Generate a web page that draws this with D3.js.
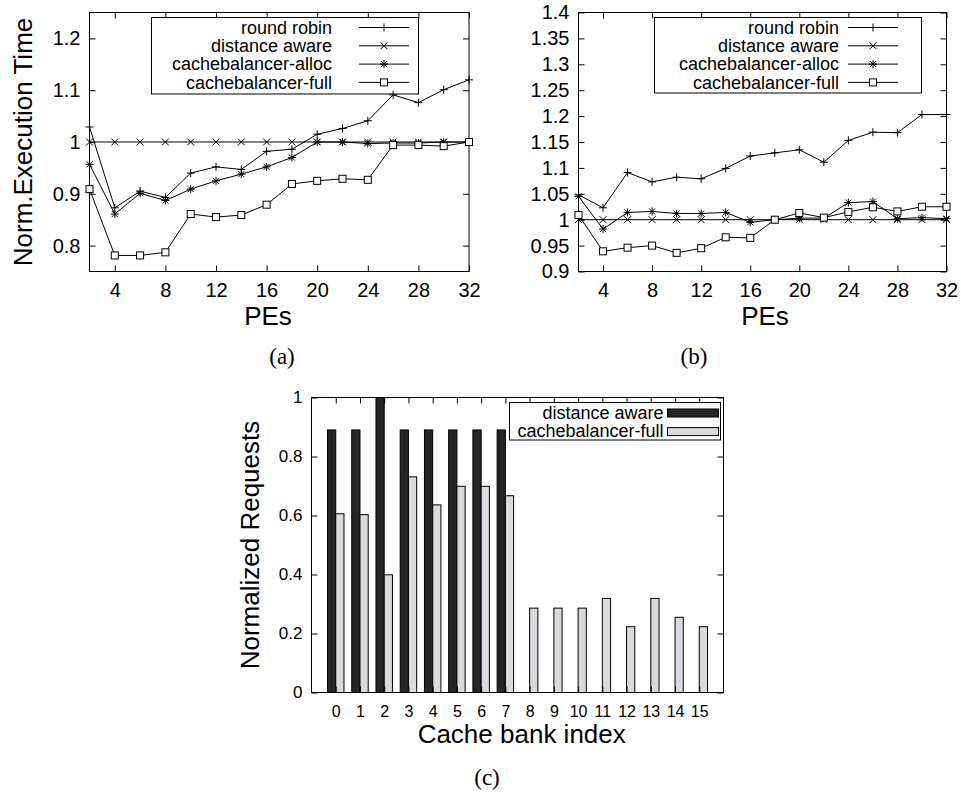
<!DOCTYPE html>
<html>
<head>
<meta charset="utf-8">
<script src="https://cdn.jsdelivr.net/npm/d3@7"></script>
<style>
  body { margin: 0; background: #fff; }
  svg { display: block; }
  text { font-family: "Liberation Sans", Arial, Helvetica, sans-serif; fill: #000; }
  .caption { font-family: "Liberation Serif", "Times New Roman", serif; }
</style>
</head>
<body>
<script>
'use strict';

// ---- data ----
const pes = [2, 4, 6, 8, 10, 12, 14, 16, 18, 20, 22, 24, 26, 28, 30, 32];
const peTicks = [4, 8, 12, 16, 20, 24, 28, 32];
const seriesNames = ['round robin', 'distance aware', 'cachebalancer-alloc', 'cachebalancer-full'];
const seriesMarkers = ['plus', 'cross', 'star', 'box'];

// (a)
const aYTicks = [0.8, 0.9, 1, 1.1, 1.2];
const aRoundRobin = [1.029, 0.873, 0.905, 0.893, 0.940, 0.952, 0.947, 0.982, 0.986, 1.015, 1.026, 1.041, 1.091, 1.076, 1.101, 1.120];
const aDistanceAware = [1, 1, 1, 1, 1, 1, 1, 1, 1, 1, 1, 1, 1, 1, 1, 1];
const aAlloc = [0.957, 0.861, 0.901, 0.887, 0.909, 0.925, 0.938, 0.952, 0.970, 1.000, 1.000, 0.997, 0.998, 0.998, 1.000, 1.000];
const aFull = [0.909, 0.781, 0.781, 0.787, 0.861, 0.855, 0.859, 0.879, 0.919, 0.925, 0.929, 0.927, 0.994, 0.994, 0.992, 1.000];

// (b)
const bYTicks = [0.9, 0.95, 1, 1.05, 1.1, 1.15, 1.2, 1.25, 1.3, 1.35, 1.4];
const bRoundRobin = [1.048, 1.023, 1.091, 1.073, 1.082, 1.079, 1.099, 1.123, 1.129, 1.135, 1.111, 1.153, 1.169, 1.168, 1.203, 1.203];
const bDistanceAware = [1, 1, 1, 1, 1, 1, 1, 1, 1, 1, 1, 1, 1, 1, 1, 1];
const bAlloc = [1.045, 0.982, 1.014, 1.016, 1.012, 1.012, 1.014, 0.995, 1.000, 1.003, 1.003, 1.033, 1.035, 1.002, 1.004, 1.002];
const bFull = [1.009, 0.939, 0.946, 0.950, 0.936, 0.945, 0.966, 0.965, 1.000, 1.013, 1.004, 1.015, 1.024, 1.016, 1.025, 1.025];

// (c)
const banks = [0, 1, 2, 3, 4, 5, 6, 7, 8, 9, 10, 11, 12, 13, 14, 15];
const cYTicks = [0, 0.2, 0.4, 0.6, 0.8, 1];
const barNames = ['distance aware', 'cachebalancer-full'];
const cDistanceAware = [0.89, 0.89, 1.0, 0.89, 0.89, 0.89, 0.89, 0.89, 0, 0, 0, 0, 0, 0, 0, 0];
const cFull = [0.606, 0.603, 0.399, 0.731, 0.636, 0.699, 0.699, 0.667, 0.286, 0.286, 0.286, 0.319, 0.223, 0.319, 0.255, 0.223];
const barColors = ['#262626', '#d9d9de'];

const svgContainer = d3.select('body').append('svg')
  .attr('width', 961)
  .attr('height', 798);

// marker paths (gnuplot point types 1-4)
function markerPath(type) {
  const s = 4;
  if (type === 'plus') return `M${-s},0H${s}M0,${-s}V${s}`;
  if (type === 'cross') return `M${-s + 0.5},${-s + 0.5}L${s - 0.5},${s - 0.5}M${-s + 0.5},${s - 0.5}L${s - 0.5},${-s + 0.5}`;
  if (type === 'star') return `M${-s},0H${s}M0,${-s}V${s}M-3,-3L3,3M-3,3L3,-3`;
  return '';
}

function drawMarker(g, type, x, y) {
  if (type === 'box') {
    g.append('rect')
      .attr('x', x - 3.5).attr('y', y - 3.5)
      .attr('width', 7).attr('height', 7)
      .attr('fill', '#fff').attr('stroke', '#000').attr('stroke-width', 1);
  } else {
    g.append('path')
      .attr('d', markerPath(type))
      .attr('transform', `translate(${x},${y})`)
      .attr('fill', 'none').attr('stroke', '#000').attr('stroke-width', 1);
  }
}

// frame + mirrored inward ticks
function drawFrame(g, xScale, yScale, xTicks, yTicks, opts) {
  const [x0, x1] = xScale.range();
  const [y0, y1] = yScale.range(); // y0 bottom, y1 top

  g.append('g')
    .attr('transform', `translate(0,${y0})`)
    .style('font-size', opts.xFont + 'px')
    .call(d3.axisBottom(xScale).tickValues(xTicks).tickSizeInner(-6).tickSizeOuter(0)
      .tickPadding(opts.xPad).tickFormat(d3.format('')))
    .call(a => a.select('.domain').remove());

  g.append('g')
    .attr('transform', `translate(0,${y1})`)
    .call(d3.axisTop(xScale).tickValues(xTicks).tickSizeInner(-6).tickSizeOuter(0).tickFormat(''))
    .call(a => a.select('.domain').remove());

  g.append('g')
    .attr('transform', `translate(${x0},0)`)
    .style('font-size', opts.yFont + 'px')
    .call(d3.axisLeft(yScale).tickValues(yTicks).tickSizeInner(-6).tickSizeOuter(0)
      .tickPadding(9).tickFormat(d => String(d)))
    .call(a => a.select('.domain').remove());

  g.append('g')
    .attr('transform', `translate(${x1},0)`)
    .call(d3.axisRight(yScale).tickValues(yTicks).tickSizeInner(-6).tickSizeOuter(0).tickFormat(''))
    .call(a => a.select('.domain').remove());

  g.selectAll('.tick text').attr('fill', '#000').style('font-family', '"Liberation Sans", Arial, sans-serif');
  g.selectAll('.tick line').attr('stroke', '#000');

  g.append('rect')
    .attr('x', x0).attr('y', y1)
    .attr('width', x1 - x0).attr('height', y0 - y1)
    .attr('fill', 'none').attr('stroke', '#000').attr('stroke-width', 1);
}

// line panels (a) and (b)
function drawLinePanel(p) {
  const g = svgContainer.append('g');
  const xScale = d3.scaleLinear().domain([2, 32]).range([p.left, p.right]);
  const yScale = d3.scaleLinear().domain(p.yDomain).range([p.bottom, p.top]);

  drawFrame(g, xScale, yScale, peTicks, p.yTicks, { xFont: 20, yFont: 20, xPad: 11 });

  const line = d3.line()
    .x((d, i) => xScale(pes[i]))
    .y(d => yScale(d));

  // legend box
  const lg = g.append('g');
  lg.append('rect')
    .attr('x', p.legend.x0).attr('y', p.legend.y0)
    .attr('width', p.legend.x1 - p.legend.x0).attr('height', p.legend.y1 - p.legend.y0)
    .attr('fill', '#fff').attr('stroke', '#000').attr('stroke-width', 1);

  p.series.forEach((vals, k) => {
    g.append('path')
      .datum(vals)
      .attr('d', line)
      .attr('fill', 'none').attr('stroke', '#000').attr('stroke-width', 1);
    vals.forEach((v, i) => drawMarker(g, seriesMarkers[k], xScale(pes[i]), yScale(v)));

    const ry = p.legend.y0 + 10 + k * 18.3;
    lg.append('text')
      .attr('x', p.legend.textX).attr('y', ry + 6.3)
      .attr('text-anchor', 'end')
      .style('font-size', '18px')
      .text(seriesNames[k]);
    lg.append('line')
      .attr('x1', p.legend.lineX0).attr('x2', p.legend.lineX1)
      .attr('y1', ry).attr('y2', ry)
      .attr('stroke', '#000').attr('stroke-width', 1);
    drawMarker(lg, seriesMarkers[k], (p.legend.lineX0 + p.legend.lineX1) / 2, ry);
  });

  g.append('text')
    .attr('x', p.xLabelX).attr('y', 325)
    .attr('text-anchor', 'middle')
    .style('font-size', '26px')
    .text('PEs');

  if (p.yLabel) {
    g.append('text')
      .attr('transform', `translate(32,${(p.top + p.bottom) / 2})rotate(-90)`)
      .attr('text-anchor', 'middle')
      .style('font-size', '26px')
      .text(p.yLabel);
  }

  g.append('text')
    .attr('class', 'caption')
    .attr('x', p.captionX).attr('y', 364)
    .attr('text-anchor', 'middle')
    .style('font-size', '23px')
    .text(p.caption);
}

drawLinePanel({
  left: 89.5, right: 469, top: 12.5, bottom: 271.5,
  yDomain: [0.75, 1.25], yTicks: aYTicks,
  series: [aRoundRobin, aDistanceAware, aAlloc, aFull],
  legend: { x0: 151.5, x1: 418.5, y0: 17.5, y1: 94, textX: 332, lineX0: 359, lineX1: 409 },
  xLabelX: 268, yLabel: 'Norm.Execution Time', captionX: 282, caption: '(a)'
});

drawLinePanel({
  left: 578.5, right: 946.5, top: 12.5, bottom: 271.5,
  yDomain: [0.9, 1.4], yTicks: bYTicks,
  series: [bRoundRobin, bDistanceAware, bAlloc, bFull],
  legend: { x0: 654.5, x1: 921.5, y0: 17.5, y1: 93, textX: 839, lineX0: 848, lineX1: 898 },
  xLabelX: 765, yLabel: null, captionX: 694, caption: '(b)'
});

// bar panel (c)
function drawBarPanel() {
  const g = svgContainer.append('g');
  const left = 311.5, right = 723.5, top = 397.5, bottom = 692.5;
  const xScale = d3.scaleLinear().domain([-1, 16]).range([left, right]);
  const yScale = d3.scaleLinear().domain([0, 1]).range([bottom, top]);
  const bw = 0.34;

  [cDistanceAware, cFull].forEach((vals, k) => {
    g.selectAll('.bar' + k)
      .data(vals)
      .enter()
      .append('rect')
        .attr('x', (d, i) => xScale(banks[i] - bw + k * bw))
        .attr('y', d => yScale(d))
        .attr('width', xScale(bw) - xScale(0))
        .attr('height', d => yScale(0) - yScale(d))
        .attr('fill', barColors[k])
        .attr('stroke', '#000').attr('stroke-width', 1);
  });

  drawFrame(g, xScale, yScale, banks, cYTicks, { xFont: 16, yFont: 17, xPad: 13 });

  // legend
  const lx0 = 509.5, lx1 = 720.5, ly0 = 402.5, ly1 = 440;
  g.append('rect')
    .attr('x', lx0).attr('y', ly0).attr('width', lx1 - lx0).attr('height', ly1 - ly0)
    .attr('fill', '#fff').attr('stroke', '#000').attr('stroke-width', 1);
  barNames.forEach((name, k) => {
    const ry = 413 + k * 18.6;
    g.append('text')
      .attr('x', 663.5).attr('y', ry + 5.5)
      .attr('text-anchor', 'end')
      .style('font-size', '18px')
      .text(name);
    g.append('rect')
      .attr('x', 667.5).attr('y', ry - 4)
      .attr('width', 51).attr('height', 8)
      .attr('fill', barColors[k]).attr('stroke', '#000').attr('stroke-width', 1);
  });

  g.append('text')
    .attr('x', 521.7).attr('y', 743)
    .attr('text-anchor', 'middle')
    .style('font-size', '26px')
    .text('Cache bank index');

  g.append('text')
    .attr('transform', `translate(259,${(top + bottom) / 2})rotate(-90)`)
    .attr('text-anchor', 'middle')
    .style('font-size', '26px')
    .text('Normalized Requests');

  g.append('text')
    .attr('class', 'caption')
    .attr('x', 487).attr('y', 785)
    .attr('text-anchor', 'middle')
    .style('font-size', '23px')
    .text('(c)');
}

drawBarPanel();
</script>
</body>
</html>
